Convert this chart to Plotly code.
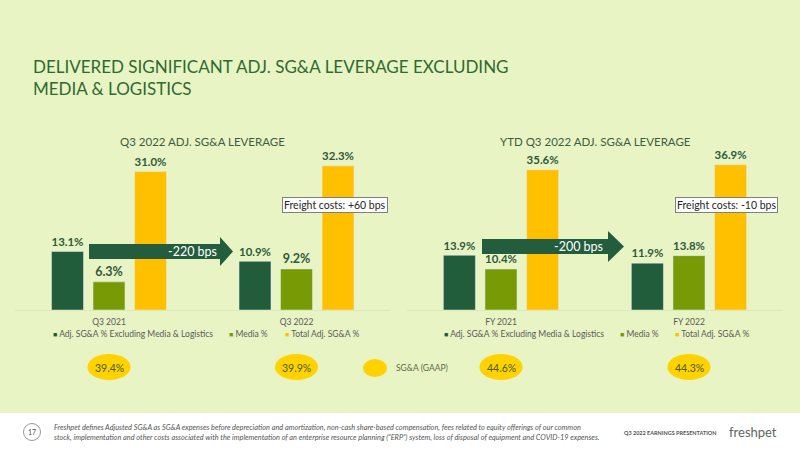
import plotly.graph_objects as go

# ---------------- data ----------------
categories_q3 = ["Q3 2021", "Q3 2022"]
categories_ytd = ["FY 2021", "FY 2022"]
series_names = ["Adj. SG&A % Excluding Media & Logistics", "Media %", "Total Adj. SG&A %"]

adj_q3 = [13.1, 10.9]
media_q3 = [6.3, 9.2]
total_q3 = [31.0, 32.3]

adj_ytd = [13.9, 11.9]
media_ytd = [10.4, 13.8]
total_ytd = [35.6, 36.9]

gaap_q3 = [39.4, 39.9]
gaap_ytd = [44.6, 44.3]

change_bps = [-220, -200]
freight_bps = [60, -10]

panel_titles = ["Q3 2022 ADJ. SG&A LEVERAGE", "YTD Q3 2022 ADJ. SG&A LEVERAGE"]
title_lines = ["DELIVERED SIGNIFICANT ADJ. SG&A LEVERAGE EXCLUDING", "MEDIA & LOGISTICS"]

# ---------------- style ----------------
W, H = 800, 450
BG = "#E9F4C4"
DARK = "#215C3B"
OLIVE = "#779A05"
YELLOW = "#FFC000"
OVAL = "#FFD200"
LABEL = "#2E5A3A"
FONT = "Lato"
colors = [DARK, OLIVE, YELLOW]


def px(x):
    return x / W


def py(y):
    return 1 - y / H


fig = go.Figure()

panels = [
    (categories_q3, [adj_q3, media_q3, total_q3], "x", "y"),
    (categories_ytd, [adj_ytd, media_ytd, total_ytd], "x2", "y2"),
]
for cats, vals, xa, ya in panels:
    for name, v, c in zip(series_names, vals, colors):
        fig.add_trace(go.Bar(
            x=cats, y=v, name=name, marker_color=c, xaxis=xa, yaxis=ya,
            texttemplate="%{y:.1f}%", textposition="outside", cliponaxis=False,
            textfont=dict(family=FONT, size=12.5, color=LABEL, weight="bold"),
            showlegend=False, hoverinfo="skip",
        ))

axis_common = dict(type="category", range=[-0.5, 1.5], showgrid=False, zeroline=False,
                   showline=True, linecolor="#DCE8B6", linewidth=1, ticks="",
                   ticklabelstandoff=4,
                   tickfont=dict(family=FONT, size=8.5, color="#595959"))
fig.update_layout(
    width=W, height=H, autosize=False,
    margin=dict(l=0, r=0, t=0, b=0),
    paper_bgcolor="white", plot_bgcolor="rgba(0,0,0,0)",
    barmode="group", bargap=0.336, bargroupgap=0.23,
    showlegend=False,
    xaxis=dict(domain=[px(15.25), px(390.25)], anchor="y", **axis_common),
    yaxis=dict(domain=[py(310), py(130)], range=[0, 40.3], visible=False),
    xaxis2=dict(domain=[px(407), px(783)], anchor="y2", **axis_common),
    yaxis2=dict(domain=[py(310), py(130)], range=[0, 45.7], visible=False),
)

shapes = []
ann = []

# backgrounds
shapes.append(dict(type="rect", xref="paper", yref="paper", x0=0, x1=1, y0=py(413), y1=1,
                   fillcolor=BG, line_width=0, layer="below"))

# main title
ann.append(dict(text="<br>".join(title_lines), xref="paper", yref="paper", x=px(31), y=py(77),
                xanchor="left", yanchor="middle", align="left", showarrow=False,
                font=dict(family=FONT, size=17, color="#2E6A31")))

# panel titles
for t, cx in zip(panel_titles, [203, 595]):
    ann.append(dict(text=t, xref="paper", yref="paper", x=px(cx), y=py(141),
                    xanchor="center", yanchor="middle", showarrow=False,
                    font=dict(family=FONT, size=11.5, color="#3B5E40")))

# legends (one per panel)
legend_pos = [[53, 229, 285], [444, 620, 675]]
for xs in legend_pos:
    for name, c, x in zip(series_names, colors, xs):
        ann.append(dict(text=f"<span style='color:{c};font-size:7px'>■</span> {name}",
                        xref="paper", yref="paper", x=px(x - 2), y=py(334),
                        xanchor="left", yanchor="middle", showarrow=False,
                        font=dict(family=FONT, size=8.5, color="#595959")))

# arrows
arrows = [
    dict(x0=89, xh=220, xt=233, yc=251.5, bh=7.5, hh=14.5, tx=192),
    dict(x0=482, xh=608, xt=624, yc=246.5, bh=7.5, hh=15.5, tx=578),
]
for a, bps in zip(arrows, change_bps):
    pts = [(a["x0"], a["yc"] - a["bh"]), (a["xh"], a["yc"] - a["bh"]), (a["xh"], a["yc"] - a["hh"]),
           (a["xt"], a["yc"]), (a["xh"], a["yc"] + a["hh"]), (a["xh"], a["yc"] + a["bh"]),
           (a["x0"], a["yc"] + a["bh"])]
    path = "M " + " L ".join(f"{px(x):.5f},{py(y):.5f}" for x, y in pts) + " Z"
    shapes.append(dict(type="path", xref="paper", yref="paper", path=path,
                       fillcolor="#235D3E", line_width=0))
    ann.append(dict(text=f"{bps} bps", xref="paper", yref="paper", x=px(a["tx"]), y=py(a["yc"]),
                    xanchor="center", yanchor="middle", showarrow=False,
                    font=dict(family=FONT, size=12.5, color="white")))

# freight boxes
for v, cx in zip(freight_bps, [335, 726]):
    ann.append(dict(text=f"Freight costs: {v:+d} bps", xref="paper", yref="paper",
                    x=px(cx), y=py(204.5), xanchor="center", yanchor="middle", showarrow=False,
                    bgcolor="white", bordercolor="#808080", borderwidth=1, borderpad=1,
                    font=dict(family=FONT, size=10.5, color="#262626")))

# SG&A (GAAP) ovals
for xa, cats, vals in [("x", categories_q3, gaap_q3), ("x2", categories_ytd, gaap_ytd)]:
    for i, (c, v) in enumerate(zip(cats, vals)):
        shapes.append(dict(type="circle", xref=xa, yref="paper", x0=i - 0.115, x1=i + 0.115,
                           y0=py(380), y1=py(354), fillcolor=OVAL, line_width=0))
        ann.append(dict(text=f"{v:.1f}%", xref=xa, yref="paper", x=c, y=py(367.5),
                        xanchor="center", yanchor="middle", showarrow=False,
                        font=dict(family=FONT, size=10.5, color="#4A5A17")))

# GAAP legend
shapes.append(dict(type="circle", xref="paper", yref="paper", x0=px(363), x1=px(387),
                   y0=py(377), y1=py(359), fillcolor=OVAL, line_width=0))
ann.append(dict(text="SG&A (GAAP)", xref="paper", yref="paper", x=px(394), y=py(368),
                xanchor="left", yanchor="middle", showarrow=False,
                font=dict(family=FONT, size=8.5, color="#5B6B45")))

# footer
shapes.append(dict(type="circle", xref="paper", yref="paper", x0=px(23.5), x1=px(40.5),
                   y0=py(440.5), y1=py(423.5), fillcolor="white", line=dict(color="#9A9A9A", width=1)))
ann.append(dict(text="17", xref="paper", yref="paper", x=px(32), y=py(432),
                xanchor="center", yanchor="middle", showarrow=False,
                font=dict(family=FONT, size=7, color="#555555")))
foot = ("Freshpet defines Adjusted SG&A as SG&A expenses before depreciation and amortization, non-cash share-based compensation, fees related to equity offerings of our common"
        "<br>stock, implementation and other costs associated with the implementation of an enterprise resource planning (“ERP”) system, loss of disposal of equipment and COVID-19 expenses.")
ann.append(dict(text=f"<i>{foot}</i>", xref="paper", yref="paper", x=px(52), y=py(432),
                xanchor="left", yanchor="middle", align="left", showarrow=False,
                font=dict(family=FONT, size=7.35, color="#555555")))
ann.append(dict(text="<b>Q3 2022 EARNINGS PRESENTATION</b>", xref="paper", yref="paper", x=px(622), y=py(433),
                xanchor="left", yanchor="middle", showarrow=False,
                font=dict(family=FONT, size=5.5, color="#555555")))
ann.append(dict(text="freshpet", xref="paper", yref="paper", x=px(727), y=py(432),
                xanchor="left", yanchor="middle", showarrow=False,
                font=dict(family=FONT, size=13, color="#5E665E")))

fig.update_layout(shapes=shapes, annotations=ann)
fig.write_html("out.html")
